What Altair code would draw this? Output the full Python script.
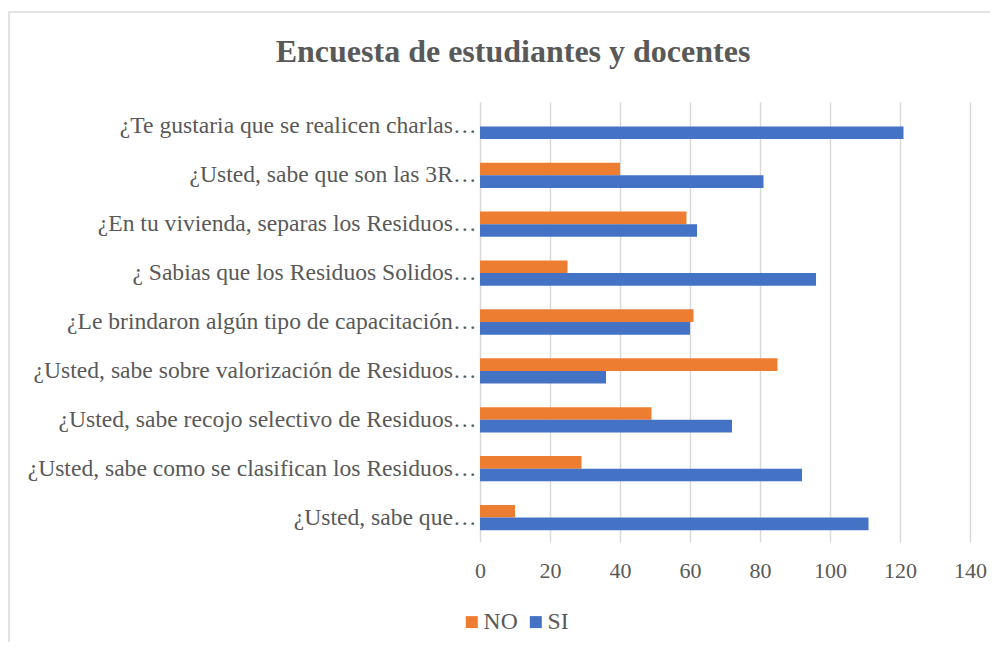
import altair as alt
import pandas as pd

categories = [
    "¿Te gustaria que se realicen charlas…",
    "¿Usted, sabe que son las 3R…",
    "¿En tu vivienda, separas los Residuos…",
    "¿ Sabias que los Residuos Solidos…",
    "¿Le brindaron algún tipo de capacitación…",
    "¿Usted, sabe sobre valorización de Residuos…",
    "¿Usted, sabe recojo selectivo de Residuos…",
    "¿Usted, sabe como se clasifican los Residuos…",
    "¿Usted, sabe que…",
]
no_values = [0, 40, 59, 25, 61, 85, 49, 29, 10]
si_values = [121, 81, 62, 96, 60, 36, 72, 92, 111]
series = ["NO", "SI"]
colors = ["#ED7D31", "#4472C4"]
x_ticks = [0, 20, 40, 60, 80, 100, 120, 140]

rows = []
for c, n, s in zip(categories, no_values, si_values):
    rows.append({"pregunta": c, "serie": "NO", "valor": n})
    rows.append({"pregunta": c, "serie": "SI", "valor": s})
df = pd.DataFrame(rows)

FONT = "Times New Roman"
GREY = "#595959"

bars = alt.Chart(df).mark_bar().encode(
    x=alt.X(
        "valor:Q",
        scale=alt.Scale(domain=[0, 140], nice=False),
        axis=alt.Axis(
            values=x_ticks, title=None, grid=True, gridColor="#d9d9d9", gridWidth=1.5,
            domain=False, ticks=False, labelFont=FONT, labelFontSize=22,
            labelColor=GREY, labelPadding=18, labelFlush=False,
        ),
    ),
    y=alt.Y(
        "pregunta:N",
        sort=categories,
        scale=alt.Scale(paddingInner=0.483, paddingOuter=0.2415),
        axis=alt.Axis(
            title=None, domain=False, ticks=False, labelFont=FONT, labelFontSize=23.6,
            labelColor=GREY, labelPadding=4, labelLimit=700,
        ),
    ),
    yOffset=alt.YOffset("serie:N", sort=series, scale=alt.Scale(paddingInner=0, paddingOuter=0)),
    color=alt.Color(
        "serie:N",
        sort=series,
        scale=alt.Scale(domain=series, range=colors),
        legend=alt.Legend(
            title=None, orient="none", direction="horizontal", legendX=-20, legendY=508,
            symbolType="square", symbolSize=144, symbolStrokeWidth=0,
            labelFont=FONT, labelFontSize=23.6, labelColor=GREY, labelOffset=0,
            columnPadding=6,
        ),
    ),
)

frame = alt.Chart(pd.DataFrame({"f": [0]})).mark_rect(
    fillOpacity=0, stroke="#d9d9d9", strokeWidth=1.5
).encode(
    x=alt.value(-471), x2=alt.value(700), y=alt.value(-90), y2=alt.value(700)
)

chart = alt.layer(frame, bars).properties(
    width=490,
    height=440,
    autosize="none",
    padding={"left": 472, "top": 94, "right": 20, "bottom": 100},
    title=alt.TitleParams(
        "Encuesta de estudiantes y docentes", font=FONT, fontSize=32, fontWeight="bold",
        color=GREY, anchor="middle", frame="group", dx=-212, offset=-58,
    ),
).configure_view(stroke=None)

chart.save("out.html", embed_options={"renderer": "svg", "actions": False})
